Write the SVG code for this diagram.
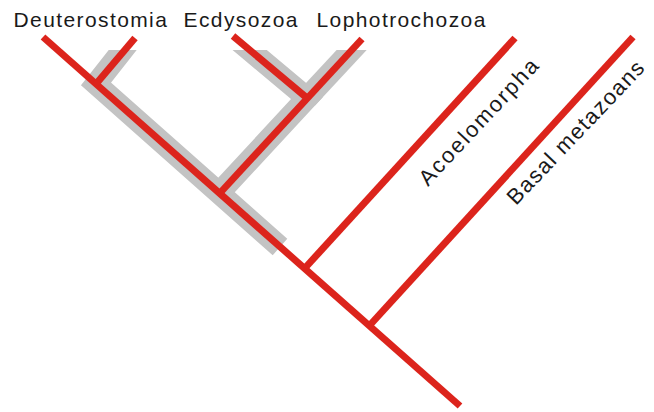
<svg xmlns="http://www.w3.org/2000/svg" width="654" height="412" viewBox="0 0 654 412">
<style>
.g{fill:none;stroke:#c3c3c3;stroke-width:22;stroke-linejoin:miter;stroke-linecap:butt}
.r{fill:none;stroke:#dc241c;stroke-width:7;stroke-linecap:butt;stroke-linejoin:miter}
text{font-family:"Liberation Sans",Arial,sans-serif;font-size:21px;letter-spacing:1.4px;fill:#1a1a1a}
text.rot{font-size:22px;letter-spacing:2px}
text.rot2{font-size:22px;letter-spacing:1.4px}
</style>
<defs>
<clipPath id="cl"><rect x="0" y="50" width="654" height="362"/></clipPath>
</defs>
<g id="shadow" clip-path="url(#cl)">
<polyline class="g" points="140,28 96,84 280,247"/>
<polyline class="g" points="221,26 307,98 220,192"/>
<polyline class="g" points="374,26 307,98"/>
</g>
<g id="connectors">
<line class="r" x1="43" y1="37" x2="460" y2="406"/>
<line class="r" x1="135" y1="38" x2="96" y2="84"/>
<polyline class="r" points="233,36 307,98"/>
<line class="r" x1="362" y1="39" x2="220" y2="193"/>
<line class="r" x1="515" y1="38" x2="305" y2="268"/>
<line class="r" x1="633" y1="37" x2="370" y2="325"/>
</g>
<g id="deuterostomia"><text x="13.5" y="26.5">Deuterostomia</text></g>
<g id="ecdysozoa"><text x="183.5" y="26.5">Ecdysozoa</text></g>
<g id="lophotrochozoa"><text x="316.5" y="26.5">Lophotrochozoa</text></g>
<g id="acoelomorpha"><text class="rot" transform="translate(428,187) rotate(-47)">Acoelomorpha</text></g>
<g id="basal"><text class="rot2" transform="translate(516,206) rotate(-46.5)">Basal metazoans</text></g>
</svg>
